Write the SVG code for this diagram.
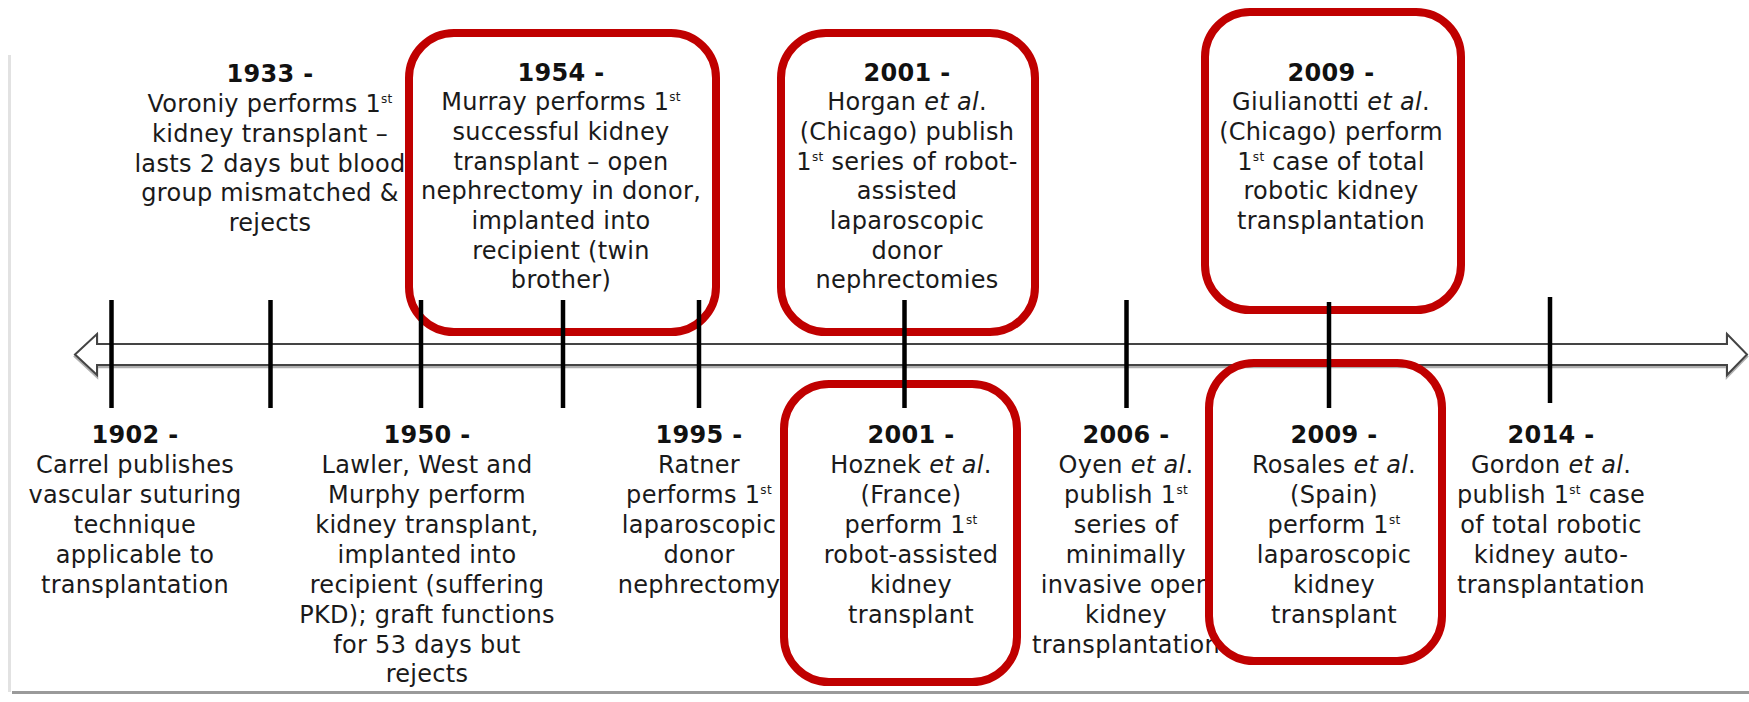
<svg xmlns="http://www.w3.org/2000/svg" width="1749" height="702" viewBox="0 0 1749 702">
<defs>
<style>
text{font-family:"DejaVu Sans","Liberation Sans",sans-serif;font-size:24px;fill:#1a1a1a;text-anchor:middle;letter-spacing:0.3px}
.y{font-weight:bold;fill:#111}
.i{font-style:italic}
.s{font-size:12px}
.box{fill:none;stroke:#c00000;stroke-width:8}
.tick{stroke:#000;stroke-width:4.5}
</style>
<polygon id="arrow" points="75,354.5 97,334 97,344 1727,344 1727,334 1747,354.5 1727,375 1727,365 97,365 97,375"/>
</defs>
<rect x="0" y="0" width="1749" height="702" fill="#fff"/>
<g id="frame">
<line x1="9.5" y1="55" x2="9.5" y2="692" stroke="#e2e2e2" stroke-width="3"/>
<line x1="12" y1="692.5" x2="1749" y2="692.5" stroke="#9a9a9a" stroke-width="3"/>
</g>
<g id="axis">
<use href="#arrow" transform="translate(0,2)" fill="none" stroke="#b0b0b0" stroke-width="2.5"/>
<use href="#arrow" fill="#fff" stroke="#444" stroke-width="2"/>
</g>
<g id="n1933">
<text class="y" x="270" y="82">1933 -</text>
<text x="270" y="112">Voroniy performs 1<tspan class="s" dy="-9">st</tspan></text>
<text x="270" y="142">kidney transplant –</text>
<text x="270" y="171.5">lasts 2 days but blood</text>
<text x="270" y="201">group mismatched &amp;</text>
<text x="270" y="230.5">rejects</text>
</g>
<g id="n1954">
<text class="y" x="561" y="81">1954 -</text>
<text x="561" y="110">Murray performs 1<tspan class="s" dy="-9">st</tspan></text>
<text x="561" y="140">successful kidney</text>
<text x="561" y="169.5">transplant – open</text>
<text x="561" y="199">nephrectomy in donor,</text>
<text x="561" y="229">implanted into</text>
<text x="561" y="258.5">recipient (twin</text>
<text x="561" y="288">brother)</text>
<rect class="box" x="409" y="33" width="307" height="299" rx="45"/>
</g>
<g id="n2001a">
<text class="y" x="907" y="81">2001 -</text>
<text x="907" y="110">Horgan <tspan class="i">et al</tspan>.</text>
<text x="907" y="140">(Chicago) publish</text>
<text x="907" y="169.5">1<tspan class="s" dy="-9">st</tspan><tspan dy="9"> series of robot-</tspan></text>
<text x="907" y="199">assisted</text>
<text x="907" y="229">laparoscopic</text>
<text x="907" y="258.5">donor</text>
<text x="907" y="288">nephrectomies</text>
<rect class="box" x="781" y="33" width="254" height="299" rx="45"/>
</g>
<g id="n2009a">
<text class="y" x="1331" y="81">2009 -</text>
<text x="1331" y="110">Giulianotti <tspan class="i">et al</tspan>.</text>
<text x="1331" y="140">(Chicago) perform</text>
<text x="1331" y="169.5">1<tspan class="s" dy="-9">st</tspan><tspan dy="9"> case of total</tspan></text>
<text x="1331" y="199">robotic kidney</text>
<text x="1331" y="229">transplantation</text>
<rect class="box" x="1205" y="12" width="256" height="298" rx="45"/>
</g>
<g id="n1902">
<text class="y" x="135" y="443">1902 -</text>
<text x="135" y="473">Carrel publishes</text>
<text x="135" y="503">vascular suturing</text>
<text x="135" y="533">technique</text>
<text x="135" y="563">applicable to</text>
<text x="135" y="593">transplantation</text>
</g>
<g id="n1950">
<text class="y" x="427" y="443">1950 -</text>
<text x="427" y="473">Lawler, West and</text>
<text x="427" y="503">Murphy perform</text>
<text x="427" y="533">kidney transplant,</text>
<text x="427" y="563">implanted into</text>
<text x="427" y="593">recipient (suffering</text>
<text x="427" y="623">PKD); graft functions</text>
<text x="427" y="653">for 53 days but</text>
<text x="427" y="682">rejects</text>
</g>
<g id="n1995">
<text class="y" x="699" y="443">1995 -</text>
<text x="699" y="473">Ratner</text>
<text x="699" y="503">performs 1<tspan class="s" dy="-9">st</tspan></text>
<text x="699" y="533">laparoscopic</text>
<text x="699" y="563">donor</text>
<text x="699" y="593">nephrectomy</text>
</g>
<g id="n2001b">
<text class="y" x="911" y="443">2001 -</text>
<text x="911" y="473">Hoznek <tspan class="i">et al</tspan>.</text>
<text x="911" y="503">(France)</text>
<text x="911" y="533">perform 1<tspan class="s" dy="-9">st</tspan></text>
<text x="911" y="563">robot-assisted</text>
<text x="911" y="593">kidney</text>
<text x="911" y="623">transplant</text>
<rect class="box" x="784" y="384" width="233" height="298" rx="45"/>
</g>
<g id="n2006">
<text class="y" x="1126" y="443">2006 -</text>
<text x="1126" y="473">Oyen <tspan class="i">et al</tspan>.</text>
<text x="1126" y="503">publish 1<tspan class="s" dy="-9">st</tspan></text>
<text x="1126" y="533">series of</text>
<text x="1126" y="563">minimally</text>
<text x="1126" y="593">invasive open</text>
<text x="1126" y="623">kidney</text>
<text x="1126" y="653">transplantation</text>
</g>
<g id="n2009b">
<text class="y" x="1334" y="443">2009 -</text>
<text x="1334" y="473">Rosales <tspan class="i">et al</tspan>.</text>
<text x="1334" y="503">(Spain)</text>
<text x="1334" y="533">perform 1<tspan class="s" dy="-9">st</tspan></text>
<text x="1334" y="563">laparoscopic</text>
<text x="1334" y="593">kidney</text>
<text x="1334" y="623">transplant</text>
<rect class="box" x="1209" y="363" width="233" height="298" rx="45"/>
</g>
<g id="n2014">
<text class="y" x="1551" y="443">2014 -</text>
<text x="1551" y="473">Gordon <tspan class="i">et al</tspan>.</text>
<text x="1551" y="503">publish 1<tspan class="s" dy="-9">st</tspan><tspan dy="9"> case</tspan></text>
<text x="1551" y="533">of total robotic</text>
<text x="1551" y="563">kidney auto-</text>
<text x="1551" y="593">transplantation</text>
</g>
<g id="connectors">
<line class="tick" x1="111.5" y1="300" x2="111.5" y2="408"/>
<line class="tick" x1="270.5" y1="300" x2="270.5" y2="408"/>
<line class="tick" x1="421" y1="300" x2="421" y2="408"/>
<line class="tick" x1="563" y1="300" x2="563" y2="408"/>
<line class="tick" x1="699" y1="300" x2="699" y2="408"/>
<line class="tick" x1="904.5" y1="300" x2="904.5" y2="408"/>
<line class="tick" x1="1126.5" y1="300" x2="1126.5" y2="408"/>
<line class="tick" x1="1329" y1="302" x2="1329" y2="408"/>
<line class="tick" x1="1550" y1="297" x2="1550" y2="403"/>
</g>
</svg>
